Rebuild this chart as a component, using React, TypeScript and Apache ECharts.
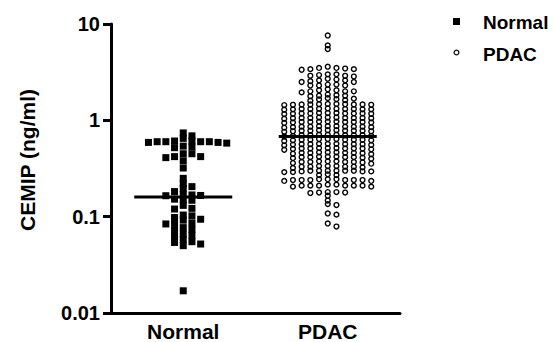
import React, { useEffect, useRef } from 'react';
import * as echarts from 'echarts';

const categories = ['Normal', 'PDAC'];
const yTickLabels = ['0.01', '0.1', '1', '10'];
const yAxisTitle = 'CEMIP (ng/ml)';

const normalValues = [
  0.74, 0.69, 0.65,
  0.61, 0.60, 0.60, 0.59, 0.60, 0.61, 0.59, 0.60, 0.58,
  0.54, 0.53, 0.52,
  0.45, 0.45, 0.42, 0.42, 0.41,
  0.38, 0.32, 0.25, 0.22, 0.205, 0.195, 0.182,
  0.17, 0.168, 0.166, 0.165,
  0.152, 0.15, 0.148,
  0.131, 0.122, 0.12,
  0.104, 0.102, 0.098, 0.094, 0.092,
  0.086, 0.085, 0.084,
  0.077, 0.074, 0.072,
  0.066, 0.064, 0.062, 0.058,
  0.055, 0.054, 0.052, 0.05,
  0.017,
];

const pdacValues = [
  7.6, 6.0, 5.5,
  3.6, 3.5, 3.5, 3.45, 3.4, 3.35, 3.4,
  3.0, 2.95, 2.9, 2.9, 2.85, 3.0,
  2.7, 2.65, 2.6, 2.6, 2.55, 2.5, 2.5,
  2.35, 2.35, 2.3, 2.3, 2.3,
  2.1, 2.05, 2.05, 2.0, 2.0, 2.0, 1.95,
  1.85, 1.82, 1.8, 1.8, 1.78,
  1.7, 1.68, 1.66, 1.65, 1.62, 1.6,
  1.48, 1.47, 1.46, 1.46, 1.45, 1.47, 1.44, 1.46, 1.48, 1.45, 1.46,
  1.32, 1.31, 1.30, 1.31, 1.33, 1.29, 1.31, 1.30, 1.32, 1.31, 1.30,
  1.19, 1.18, 1.17, 1.18, 1.19, 1.16, 1.18, 1.17, 1.18, 1.19, 1.18,
  1.07, 1.06, 1.05, 1.06, 1.07, 1.05, 1.06, 1.04, 1.06, 1.07, 1.06,
  0.97, 0.96, 0.95, 0.96, 0.97, 0.95, 0.96, 0.94, 0.96, 0.97, 0.96,
  0.87, 0.86, 0.85, 0.86, 0.87, 0.85, 0.86, 0.84, 0.86, 0.87, 0.86,
  0.79, 0.78, 0.77, 0.78, 0.79, 0.77, 0.78, 0.76, 0.78, 0.79, 0.78,
  0.71, 0.70, 0.69, 0.70, 0.71, 0.69, 0.70, 0.68, 0.70, 0.71, 0.70,
  0.64, 0.63, 0.62, 0.63, 0.64, 0.62, 0.63, 0.61, 0.63, 0.64, 0.63,
  0.57, 0.565, 0.56, 0.565, 0.57, 0.555, 0.565, 0.55, 0.565, 0.57, 0.565,
  0.515, 0.51, 0.505, 0.51, 0.515, 0.50, 0.51, 0.495, 0.51, 0.515, 0.51,
  0.465, 0.46, 0.455, 0.46, 0.465, 0.45, 0.46, 0.445, 0.46, 0.465,
  0.42, 0.415, 0.41, 0.415, 0.42, 0.405, 0.415, 0.40, 0.415, 0.42,
  0.375, 0.37, 0.365, 0.37, 0.375, 0.36, 0.37, 0.355, 0.37, 0.375,
  0.335, 0.33, 0.325, 0.33, 0.335, 0.32, 0.33, 0.33, 0.335,
  0.30, 0.30, 0.295, 0.30, 0.29, 0.30, 0.295, 0.29, 0.30, 0.30, 0.295,
  0.275, 0.27, 0.27,
  0.245, 0.24, 0.24, 0.245, 0.24, 0.235, 0.24, 0.245, 0.24, 0.24, 0.235,
  0.215, 0.21, 0.21, 0.215, 0.205, 0.21, 0.21, 0.205, 0.21, 0.21,
  0.18, 0.178, 0.178, 0.176, 0.18,
  0.165, 0.147, 0.135, 0.132, 0.108, 0.105, 0.085, 0.079,
];

const normalMedian = 0.16;
const pdacMedian = 0.68;

// layout (pixels)
const W = 553;
const H = 342;
const GRID = { left: 111, right: 153, top: 24, bottom: 29 };
const plotW = W - GRID.left - GRID.right;
const plotH = H - GRID.top - GRID.bottom;
const pxPerDecade = plotH / 3;
const unitPx = plotW / 2; // x value axis 0..2
const SPACING = 8.7;
const MEDIAN_HALF = 49;

function swarm(values: number[], center: number, minDy: number, maxK: number) {
  const pts = values
    .map((v, i) => ({ v, i, y: Math.log10(v) * pxPerDecade }))
    .sort((a, b) => b.v - a.v);
  const order = [0];
  for (let k = 1; k <= maxK; k++) order.push(k, -k);
  const placed: { k: number; y: number }[] = [];
  const out: number[][] = new Array(values.length);
  for (const p of pts) {
    let chosen: number | null = null;
    for (const k of order) {
      if (!placed.some((q) => q.k === k && Math.abs(q.y - p.y) < minDy)) {
        chosen = k;
        break;
      }
    }
    if (chosen === null) {
      let best = -1;
      let bestK = 0;
      for (const k of order) {
        let m = Infinity;
        for (const q of placed) if (q.k === k) m = Math.min(m, Math.abs(q.y - p.y));
        if (m > best + 0.01) {
          best = m;
          bestK = k;
        }
      }
      chosen = bestK;
    }
    placed.push({ k: chosen, y: p.y });
    out[p.i] = [center + (chosen * SPACING) / unitPx, p.v];
  }
  return out;
}

const FONT = 'Arial, "Liberation Sans", sans-serif';

export default function App() {
  const ref = useRef<HTMLDivElement>(null);
  useEffect(() => {
    document.body.style.margin = '0';
    if (!ref.current) return;
    const chart = echarts.init(ref.current, undefined, { renderer: 'svg' });
    const centers = [0.5, 1.5];
    const half = MEDIAN_HALF / unitPx;
    const option: any = {
      animation: false,
      backgroundColor: '#ffffff',
      grid: { ...GRID, containLabel: false },
      xAxis: [
        {
          type: 'category',
          data: categories,
          boundaryGap: true,
          axisLine: { show: true, lineStyle: { color: '#000', width: 3 } },
          axisTick: { show: false },
          axisLabel: {
            color: '#000',
            fontFamily: FONT,
            fontWeight: 'bold',
            fontSize: 21,
            margin: 8,
          },
          splitLine: { show: false },
        },
        {
          type: 'value',
          min: 0,
          max: 2,
          show: false,
        },
      ],
      yAxis: {
        type: 'log',
        logBase: 10,
        min: 0.01,
        max: 10,
        axisLine: { show: true, lineStyle: { color: '#000', width: 3 } },
        axisTick: { show: true, length: 8, lineStyle: { color: '#000', width: 3 } },
        minorTick: { show: false },
        splitLine: { show: false },
        axisLabel: {
          color: '#000',
          fontFamily: FONT,
          fontWeight: 'bold',
          fontSize: 20,
          margin: 11,
          formatter: (v: number) => {
            const idx = Math.round(Math.log10(v)) + 2;
            return yTickLabels[idx] ?? String(v);
          },
        },
      },
      series: [
        {
          name: categories[0],
          type: 'scatter',
          xAxisIndex: 1,
          symbol: 'rect',
          symbolSize: 7,
          itemStyle: { color: '#000', opacity: 1 },
          data: swarm(normalValues, centers[0], 5, 5),
          z: 3,
        },
        {
          name: categories[1],
          type: 'scatter',
          xAxisIndex: 1,
          symbol: 'circle',
          symbolSize: 4.8,
          itemStyle: { color: 'rgba(0,0,0,0)', borderColor: '#000', borderWidth: 1.4, opacity: 1 },
          data: swarm(pdacValues, centers[1], 3.5, 5),
          z: 3,
        },
        {
          type: 'line',
          xAxisIndex: 1,
          symbol: 'none',
          lineStyle: { color: '#000', width: 3 },
          data: [
            [centers[0] - half, normalMedian],
            [centers[0] + half, normalMedian],
          ],
          z: 4,
        },
        {
          type: 'line',
          xAxisIndex: 1,
          symbol: 'none',
          lineStyle: { color: '#000', width: 3 },
          data: [
            [centers[1] - half, pdacMedian],
            [centers[1] + half, pdacMedian],
          ],
          z: 4,
        },
      ],
      graphic: [
        {
          type: 'text',
          x: 27,
          y: 160,
          rotation: Math.PI / 2,
          style: {
            text: yAxisTitle,
            fill: '#000',
            font: `bold 21px ${FONT}`,
            textAlign: 'center',
            textVerticalAlign: 'middle',
            verticalAlign: 'middle',
          },
        },
        {
          type: 'rect',
          shape: { x: 453, y: 18, width: 7, height: 7 },
          style: { fill: '#000' },
        },
        {
          type: 'circle',
          shape: { cx: 456.5, cy: 52.5, r: 2.4 },
          style: { fill: '#fff', stroke: '#000', lineWidth: 1.2 },
        },
        {
          type: 'text',
          x: 483,
          y: 22,
          style: {
            text: categories[0],
            fill: '#000',
            font: `bold 19px ${FONT}`,
            textAlign: 'left',
            textVerticalAlign: 'middle',
            verticalAlign: 'middle',
          },
        },
        {
          type: 'text',
          x: 483,
          y: 54,
          style: {
            text: categories[1],
            fill: '#000',
            font: `bold 19px ${FONT}`,
            textAlign: 'left',
            textVerticalAlign: 'middle',
            verticalAlign: 'middle',
          },
        },
      ],
    };
    chart.setOption(option);
    return () => chart.dispose();
  }, []);
  return <div ref={ref} style={{ width: W, height: H }} />;
}
